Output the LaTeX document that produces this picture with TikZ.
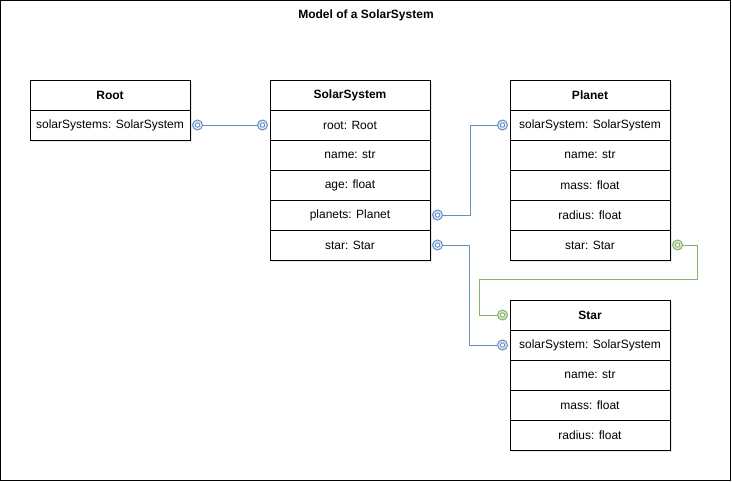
\documentclass[tikz,border=0pt]{standalone}
\usepackage{fontspec}
\setmainfont{Liberation Sans}
\usetikzlibrary{shadows}
\definecolor{linkblue}{HTML}{6C8EBF}
\definecolor{linkbluefill}{HTML}{DAE8FC}
\definecolor{linkgreen}{HTML}{82B366}
\definecolor{linkgreenfill}{HTML}{D5E8D4}
\begin{document}
\begin{tikzpicture}[x=1pt, y=-1pt,
    field/.style={draw, line width=1pt, fill=white, minimum width=160pt, minimum height=30pt, inner sep=0pt,
        font=\fontsize{12}{14}\selectfont, drop shadow={opacity=0.18, shadow xshift=2pt, shadow yshift=-2pt}},
    head/.style={field, font=\fontsize{12}{14}\selectfont\bfseries},
    bluedot/.style={circle, draw=linkblue, line width=1pt, fill=linkbluefill, minimum size=10pt, inner sep=0pt,
        path picture={\draw[linkblue, line width=0.9pt, fill=white] (path picture bounding box.center) circle (2.2pt);}},
    greendot/.style={circle, draw=linkgreen, line width=1pt, fill=linkgreenfill, minimum size=10pt, inner sep=0pt,
        path picture={\draw[linkgreen, line width=0.9pt, fill=white] (path picture bounding box.center) circle (2.2pt);}},
    bluelink/.style={draw=linkblue, line width=0.9pt},
    greenlink/.style={draw=linkgreen, line width=0.9pt}]
    \useasboundingbox (0,0) rectangle (732,482);
    \draw[line width=1pt] (0.5,0.5) rectangle (730.5,480.5);
    \node[font=\fontsize{12}{14}\selectfont\bfseries] (title) at (366,15) {Model of a SolarSystem};
    % Root
    \node[head] (root) at (110,95) {Root};
    \node[field] (rootSS) at (110,125) {solarSystems: SolarSystem};
    % SolarSystem
    \node[head] (ss) at (350,95) {SolarSystem};
    \node[field] (ssRoot) at (350,125) {root: Root};
    \node[field] (ssName) at (350,155) {name: str};
    \node[field] (ssAge) at (350,185) {age: float};
    \node[field] (ssPlanets) at (350,215) {planets: Planet};
    \node[field] (ssStar) at (350,245) {star: Star};
    % Planet
    \node[head] (planet) at (590,95) {Planet};
    \node[field] (plSS) at (590,125) {solarSystem: SolarSystem};
    \node[field] (plName) at (590,155) {name: str};
    \node[field] (plMass) at (590,185) {mass: float};
    \node[field] (plRadius) at (590,215) {radius: float};
    \node[field] (plStar) at (590,245) {star: Star};
    % Star
    \node[head] (star) at (590,315) {Star};
    \node[field] (stSS) at (590,345) {solarSystem: SolarSystem};
    \node[field] (stName) at (590,375) {name: str};
    \node[field] (stMass) at (590,405) {mass: float};
    \node[field] (stRadius) at (590,435) {radius: float};
    % end markers
    \node[bluedot] (rootOut) at ([xshift=7pt]rootSS.east) {};
    \node[bluedot] (ssRootIn) at ([xshift=-7pt]ssRoot.west) {};
    \node[bluedot] (ssPlanetsOut) at ([xshift=7pt]ssPlanets.east) {};
    \node[bluedot] (plSSIn) at ([xshift=-7pt]plSS.west) {};
    \node[bluedot] (ssStarOut) at ([xshift=7pt]ssStar.east) {};
    \node[bluedot] (stSSIn) at ([xshift=-7pt]stSS.west) {};
    \node[greendot] (plStarOut) at ([xshift=7pt]plStar.east) {};
    \node[greendot] (starIn) at ([xshift=-7pt]star.west) {};
    % bends
    \coordinate (planetsBend) at (470,125);
    \coordinate (starBend) at (469,345);
    \coordinate (greenBendA) at (697,279);
    \coordinate (greenBendB) at (479,279);
    % links
    \draw[bluelink] (rootOut) -- (ssRootIn);
    \draw[bluelink] (ssPlanetsOut) -| (planetsBend) -- (plSSIn);
    \draw[bluelink] (ssStarOut) -| (starBend) -- (stSSIn);
    \draw[greenlink] (plStarOut) -| (greenBendA) -- (greenBendB) |- (starIn);
\end{tikzpicture}
\end{document}
